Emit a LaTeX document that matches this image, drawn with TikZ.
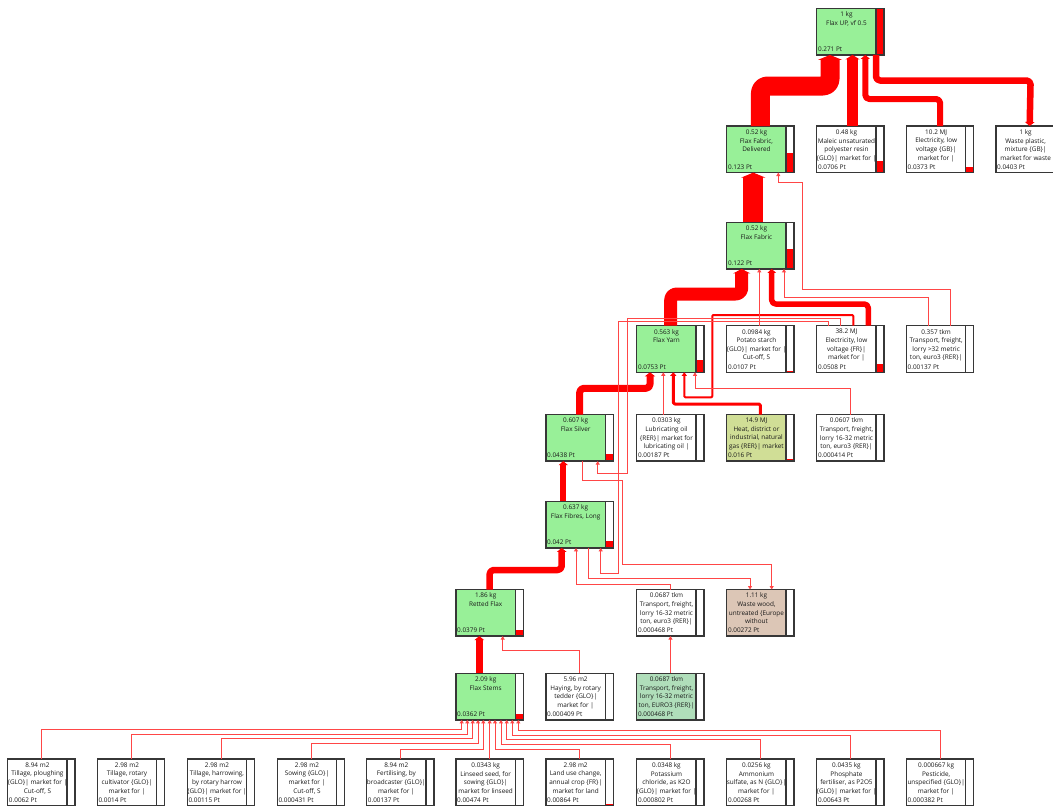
\documentclass[tikz,border=0pt]{standalone}
\usepackage{fontspec}
\setmainfont{Open Sans}
\usetikzlibrary{arrows.meta}
\definecolor{boxgreen}{RGB}{152,240,152}
\definecolor{boxolive}{RGB}{208,222,150}
\definecolor{boxsea}{RGB}{176,222,186}
\definecolor{boxtan}{RGB}{220,198,182}
\definecolor{boxedge}{RGB}{55,55,55}
\definecolor{flowred}{RGB}{255,0,0}
\definecolor{thinred}{RGB}{255,70,70}
\definecolor{txt}{RGB}{25,25,25}
\tikzset{
  pbox/.style={rectangle, anchor=north west, minimum width=67.3pt, minimum height=46.6pt, inner sep=0pt, outer sep=0pt},
  boxline/.style={draw=boxedge, line width=1.3pt},
  toptext/.style={anchor=north, inner sep=0pt, align=center, text=txt, font=\fontsize{6.4pt}{8.6pt}\selectfont},
  pttext/.style={anchor=south west, inner sep=0pt, text=txt, font=\fontsize{6.4pt}{8.6pt}\selectfont},
  thinc/.style={draw=thinred, line width=0.9pt, -{Triangle[width=4pt,length=3.5pt]}},
  flow/.style={draw=flowred, line join=round, rounded corners=4pt},
}
\newcommand{\procbox}[7]{%
  \node[pbox, fill=#4] (#1) at (#2,#3) {};
  \fill[white] ([xshift=-8pt]#1.north east) rectangle (#1.south east);
  \fill[flowred] ([xshift=-8pt]#1.south east) rectangle ([yshift=#5pt]#1.south east);
  \draw[boxline] ([xshift=-8pt]#1.north east) -- ([xshift=-8pt]#1.south east);
  \node[toptext] at ([xshift=-4pt,yshift=-3.4pt]#1.north) {#6};
  \node[pttext] at ([xshift=1pt,yshift=3pt]#1.south west) {#7};
  \draw[boxline] (#1.north west) rectangle (#1.south east);
}
\begin{document}
\begin{tikzpicture}[x=1pt,y=-1pt]
\useasboundingbox (0,0) rectangle (1053,806);
\fill[white] (0,0) rectangle (1053,806);

% ---------- boxes ----------
\procbox{up}{816.8}{8.3}{boxgreen}{46}{1 kg\\Flax UP, vf 0.5}{0.271 Pt}
\procbox{fd}{726.8}{126}{boxgreen}{20}{0.52 kg\\Flax Fabric,\\Delivered}{0.123 Pt}
\procbox{maleic}{816.8}{126}{white}{11.5}{0.48 kg\\Maleic unsaturated\\polyester resin\\\{GLO\}| market for |}{0.0706 Pt}
\procbox{elecgb}{906.5}{126}{white}{6.1}{10.2 MJ\\Electricity, low\\voltage \{GB\}|\\market for |}{0.0373 Pt}
\procbox{wastepl}{996}{126}{white}{6.5}{1 kg\\Waste plastic,\\mixture \{GB\}|\\market for waste}{0.0403 Pt}
\procbox{fabric}{726.8}{222.3}{boxgreen}{19.8}{0.52 kg\\Flax Fabric}{0.122 Pt}
\procbox{yarn}{636.8}{325.7}{boxgreen}{12.2}{0.563 kg\\Flax Yarn}{0.0753 Pt}
\procbox{potato}{726.8}{325.7}{white}{1.7}{0.0984 kg\\Potato starch\\\{GLO\}| market for |\\Cut-off, S}{0.0107 Pt}
\procbox{elecfr}{816.8}{325.7}{white}{8.3}{38.2 MJ\\Electricity, low\\voltage \{FR\}|\\market for |}{0.0508 Pt}
\procbox{trbig}{906.5}{325.7}{white}{0.2}{0.357 tkm\\Transport, freight,\\lorry >32 metric\\ton, euro3 \{RER\}|}{0.00137 Pt}
\procbox{silver}{546}{414.5}{boxgreen}{7.1}{0.607 kg\\Flax Silver}{0.0438 Pt}
\procbox{lub}{636.8}{414.5}{white}{0.4}{0.0303 kg\\Lubricating oil\\\{RER\}| market for\\lubricating oil |}{0.00187 Pt}
\procbox{heat}{726.8}{414.5}{boxolive}{2.6}{14.9 MJ\\Heat, district or\\industrial, natural\\gas \{RER\}| market}{0.016 Pt}
\procbox{trmid}{816.8}{414.5}{white}{0}{0.0607 tkm\\Transport, freight,\\lorry 16-32 metric\\ton, euro3 \{RER\}|}{0.000414 Pt}
\procbox{fibres}{546}{501.3}{boxgreen}{6.8}{0.637 kg\\Flax Fibres, Long}{0.042 Pt}
\procbox{retted}{456}{589.5}{boxgreen}{6.2}{1.86 kg\\Retted Flax}{0.0379 Pt}
\procbox{tra}{636.8}{589.5}{white}{0}{0.0687 tkm\\Transport, freight,\\lorry 16-32 metric\\ton, euro3 \{RER\}|}{0.000468 Pt}
\procbox{wood}{726.8}{589.5}{boxtan}{0.5}{1.11 kg\\Waste wood,\\untreated \{Europe\\without}{0.00272 Pt}
\procbox{stems}{456}{673.3}{boxgreen}{5.9}{2.09 kg\\Flax Stems}{0.0362 Pt}
\procbox{haying}{546}{673.3}{white}{0}{5.96 m2\\Haying, by rotary\\tedder \{GLO\}|\\market for |}{0.000409 Pt}
\procbox{treuro}{636.8}{673.3}{boxsea}{0}{0.0687 tkm\\Transport, freight,\\lorry 16-32 metric\\ton, EURO3 \{RER\}|}{0.000468 Pt}
\procbox{bA}{7.8}{759}{white}{1.0}{8.94 m2\\Tillage, ploughing\\\{GLO\}| market for |\\Cut-off, S}{0.0062 Pt}
\procbox{bB}{97.3}{759}{white}{0.2}{2.98 m2\\Tillage, rotary\\cultivator \{GLO\}|\\market for |}{0.0014 Pt}
\procbox{bC}{187.3}{759}{white}{0.2}{2.98 m2\\Tillage, harrowing,\\by rotary harrow\\\{GLO\}| market for |}{0.00115 Pt}
\procbox{bD}{277.3}{759}{white}{0}{2.98 m2\\Sowing \{GLO\}|\\market for |\\Cut-off, S}{0.000431 Pt}
\procbox{bE}{366.7}{759}{white}{0.2}{8.94 m2\\Fertilising, by\\broadcaster \{GLO\}|\\market for |}{0.00137 Pt}
\procbox{bF}{456}{759}{white}{0.8}{0.0343 kg\\Linseed seed, for\\sowing \{GLO\}|\\market for linseed}{0.00474 Pt}
\procbox{bG}{546}{759}{white}{1.4}{2.98 m2\\Land use change,\\annual crop \{FR\}|\\market for land}{0.00864 Pt}
\procbox{bH}{636.8}{759}{white}{0.1}{0.0348 kg\\Potassium\\chloride, as K2O\\\{GLO\}| market for |}{0.000802 Pt}
\procbox{bI}{726.8}{759}{white}{0.45}{0.0256 kg\\Ammonium\\sulfate, as N \{GLO\}|\\market for |}{0.00268 Pt}
\procbox{bJ}{816.8}{759}{white}{1.05}{0.0435 kg\\Phosphate\\fertiliser, as P2O5\\\{GLO\}| market for |}{0.00643 Pt}
\procbox{bK}{906.5}{759}{white}{0}{0.000667 kg\\Pesticide,\\unspecified \{GLO\}|\\market for |}{0.000382 Pt}

% ---------- thick flows ----------
\draw[flow, line width=19pt, rounded corners=7pt, -{Triangle[width=24pt,length=5pt]}] (fd.north) |- (830,86) -- (up.south -| 830,0);
\draw[flow, line width=10.5pt, -{Triangle[width=14pt,length=4.5pt]}] (maleic.north -| 852.5,0) -- (up.south -| 852.5,0);
\draw[flow, line width=6pt, -{Triangle[width=9pt,length=4pt]}] (elecgb.north) |- (865.3,99) -- (up.south -| 865.3,0);
\draw[flow, line width=6.5pt, -{Triangle[width=9.5pt,length=4pt]}] (up.south -| 876,0) |- (1030.6,80.5) -- (wastepl.north);
\draw[flow, line width=20pt, -{Triangle[width=24pt,length=5pt]}] (fabric.north -| 753.3,0) -- (fd.south -| 753.3,0);
\draw[flow, line width=13pt, rounded corners=6pt, -{Triangle[width=17pt,length=4.5pt]}] (yarn.north -| 670.7,0) |- (741.7,294) -- (fabric.south -| 741.7,0);
\draw[flow, line width=5.5pt, -{Triangle[width=8.5pt,length=4pt]}] (elecfr.north -| 868.3,0) |- (771.7,304) -- (fabric.south -| 771.7,0);
\draw[flow, line width=2pt, rounded corners=1pt, -{Triangle[width=5pt,length=3.5pt]}] (elecfr.north -| 853.3,0) |- (712.3,315) |- (684.3,397.3) -- (yarn.south -| 684.3,0);
\draw[flow, line width=7pt, -{Triangle[width=10pt,length=4pt]}] (silver.north -| 579.7,0) |- (650,388.3) -- (yarn.south -| 650,0);
\draw[flow, line width=3pt, rounded corners=1.5pt, -{Triangle[width=6pt,length=3.5pt]}] (heat.north) |- (673.3,404) -- (yarn.south -| 673.3,0);
\draw[flow, line width=6pt, -{Triangle[width=9pt,length=4pt]}] (fibres.north -| 563.3,0) -- (silver.south -| 563.3,0);
\draw[flow, line width=6.5pt, -{Triangle[width=9.5pt,length=4pt]}] (retted.north) |- (561.7,570) -- (fibres.south -| 561.7,0);
\draw[flow, line width=6.5pt, -{Triangle[width=9.5pt,length=4pt]}] (stems.north -| 479.3,0) -- (retted.south -| 479.3,0);

% ---------- thin flows ----------
\draw[thinc] (trbig.north -| 950.7,0) |- (802.7,289.3) |- (778.3,182.7) -- (fd.south -| 778.3,0);
\draw[thinc] (trbig.north -| 928.3,0) |- (784,297.3) -- (fabric.south -| 784,0);
\draw[thinc] (potato.north -| 759.3,0) -- (fabric.south -| 759.3,0);
\draw[thinc] (elecfr.north -| 840,0) |- (627.7,318.3) |- (597.7,473.5) -- (silver.south -| 597.7,0);
\draw[thinc] (elecfr.north -| 828.3,0) |- (618.7,321.7) |- (600.7,573.3) -- (fibres.south -| 600.7,0);
\draw[thinc] (lub.north -| 663.3,0) -- (yarn.south -| 663.3,0);
\draw[thinc] (trmid.north) |- (695,388.3) -- (yarn.south -| 695,0);
\draw[thinc] (silver.south -| 582.5,0) |- (622.7,480) |- (771.7,564.5) -- (wood.north -| 771.7,0);
\draw[thinc] (fibres.south -| 588.3,0) |- (750,578.3) -- (wood.north -| 750,0);
\draw[thinc] (tra.north) |- (576,584.5) -- (fibres.south -| 576,0);
\draw[thinc] (treuro.north) -- (tra.south);
\draw[thinc] (haying.north) |- (502.7,650) -- (retted.south -| 502.7,0);
% inputs to flax stems
\draw[thinc] (bA.north) |- (461.7,729.5) -- (stems.south -| 461.7,0);
\draw[thinc] (bB.north) |- (467.3,734) -- (stems.south -| 467.3,0);
\draw[thinc] (bC.north) |- (472.7,738.5) -- (stems.south -| 472.7,0);
\draw[thinc] (bD.north) |- (478,743) -- (stems.south -| 478,0);
\draw[thinc] (bE.north) |- (483.3,749) -- (stems.south -| 483.3,0);
\draw[thinc] (bF.north) -- (stems.south -| bF.north);
\draw[thinc] (bG.north) |- (495,749) -- (stems.south -| 495,0);
\draw[thinc] (bH.north) |- (501,744) -- (stems.south -| 501,0);
\draw[thinc] (bI.north) |- (506.7,739.3) -- (stems.south -| 506.7,0);
\draw[thinc] (bJ.north) |- (512.3,735) -- (stems.south -| 512.3,0);
\draw[thinc] (bK.north) |- (518.3,730) -- (stems.south -| 518.3,0);
\end{tikzpicture}
\end{document}
